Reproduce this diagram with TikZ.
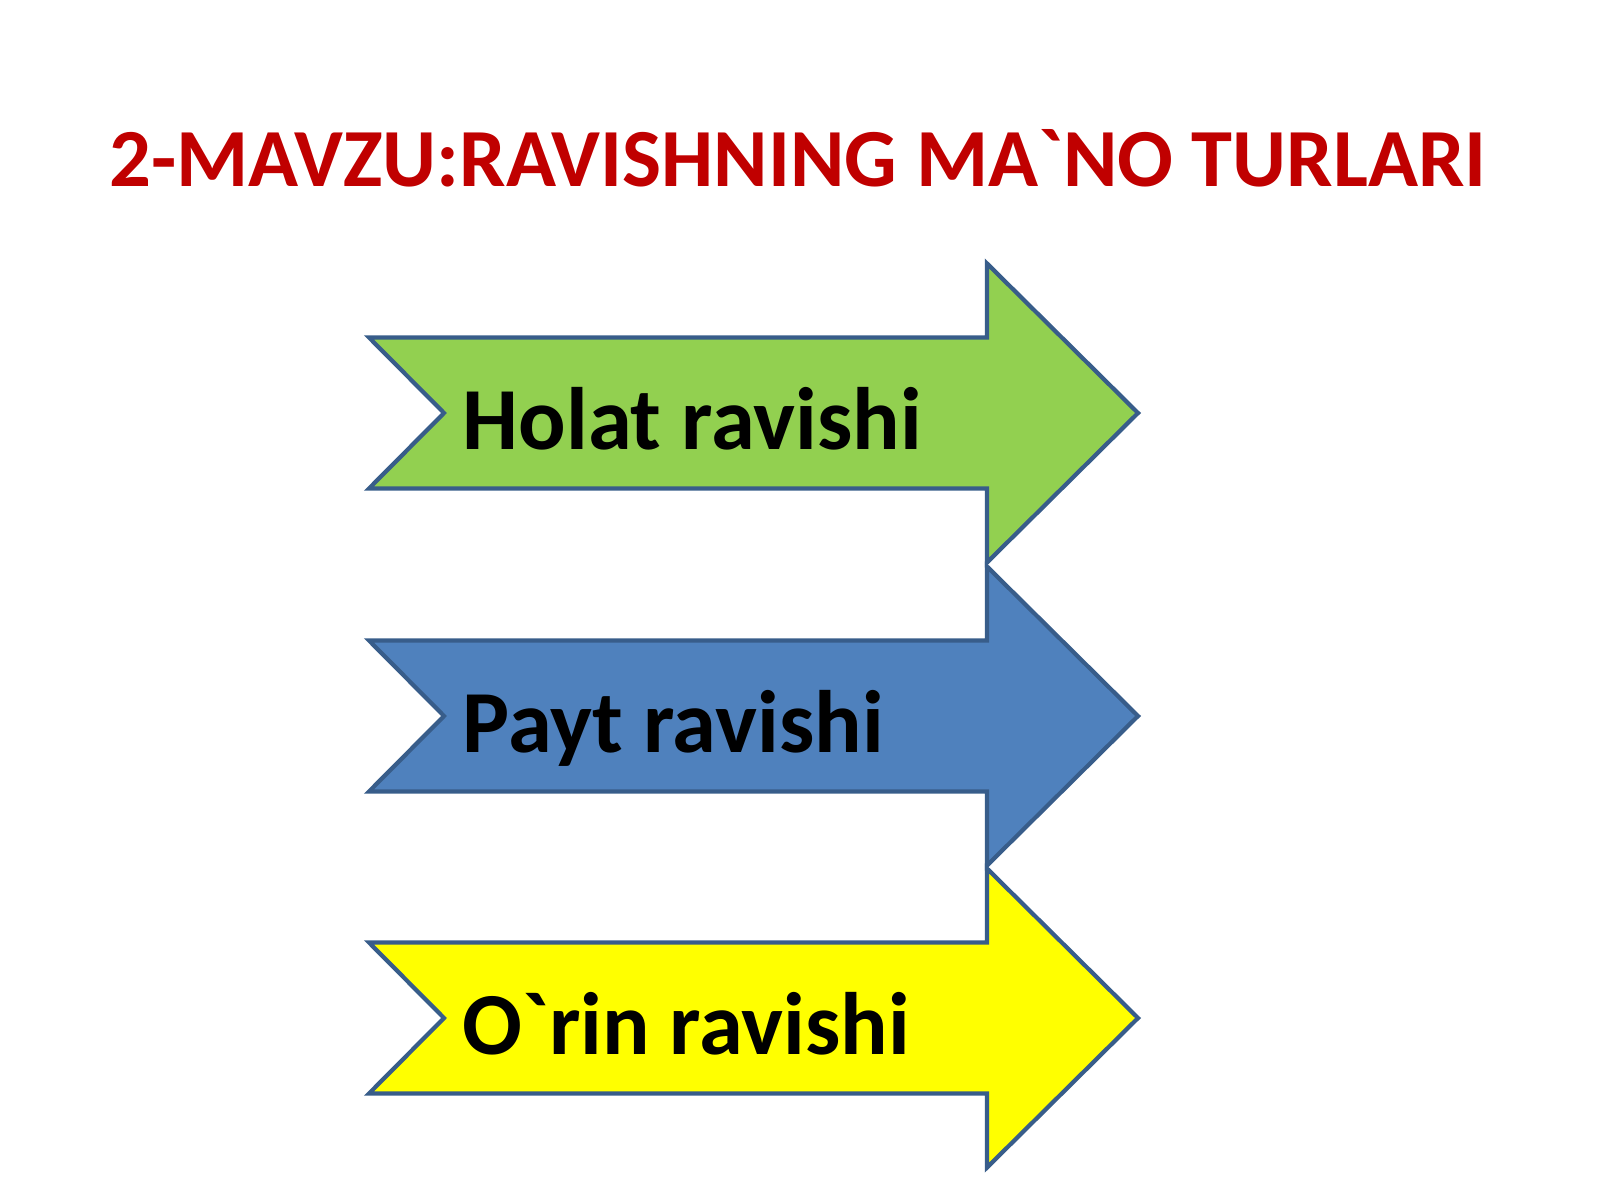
\documentclass[tikz,border=0pt]{standalone}
\usepackage{fontspec}
\setmainfont{Carlito}[Ligatures=TeXOff]
\usepackage{tikz}
\usepackage{xcolor}

\definecolor{titolo}{HTML}{C00000}
\definecolor{bordo}{HTML}{385D8A}
\definecolor{verde}{HTML}{92D050}
\definecolor{blu}{HTML}{4F81BD}
\definecolor{giallo}{HTML}{FFFF00}

\tikzset{
    freccia/.style={draw=bordo, line width=1.2pt, line join=miter},
    etichetta/.style={anchor=base west, inner sep=0pt, font=\fontsize{25.2}{30}\selectfont\bfseries}
}

\begin{document}
\begin{tikzpicture}
    \useasboundingbox (0,0) rectangle (16,12);

    % Titolo
    \node[anchor=base, inner sep=0pt, text=titolo, font=\fontsize{23.5}{28}\selectfont\bfseries] (titolo) at (7.98, 10.13) {2-MAVZU:RAVISHNING MA`NO TURLARI};

    % Frecce: colore / centro y / testo
    \foreach \col/\yc/\nome/\testo in {verde/7.87/holat/Holat ravishi, blu/4.84/payt/Payt ravishi, giallo/1.82/orin/O`rin ravishi} {
        \coordinate (\nome-a) at (3.69, \yc+0.755);
        \coordinate (\nome-b) at (9.87, \yc+0.755);
        \coordinate (\nome-c) at (9.87, \yc+1.495);
        \coordinate (\nome-d) at (11.38, \yc);
        \coordinate (\nome-e) at (9.87, \yc-1.495);
        \coordinate (\nome-f) at (9.87, \yc-0.755);
        \coordinate (\nome-g) at (3.69, \yc-0.755);
        \coordinate (\nome-h) at (4.44, \yc);

        \filldraw[freccia, fill=\col] (\nome-a) -- (\nome-b) -- (\nome-c) -- (\nome-d) -- (\nome-e) -- (\nome-f) -- (\nome-g) -- (\nome-h) -- cycle;
        \node[etichetta] (\nome) at (4.62, \yc-0.36) {\testo};
    }
\end{tikzpicture}
\end{document}
